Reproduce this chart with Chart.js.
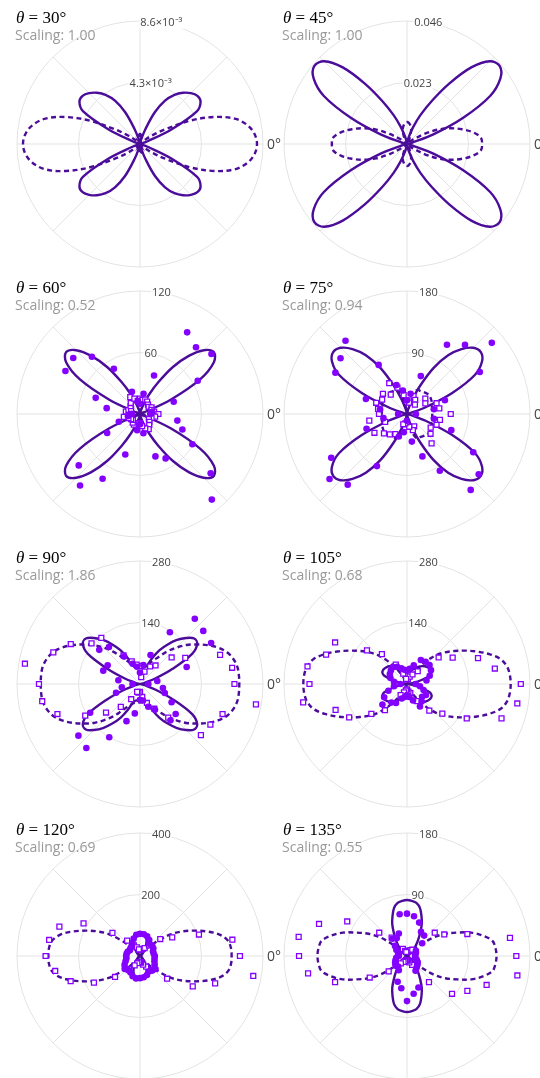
<!DOCTYPE html>
<html>
<head>
<meta charset="utf-8">
<script src="https://cdn.jsdelivr.net/npm/chart.js@4.4.1/dist/chart.umd.min.js"></script>
<style>
  body { margin: 0; width: 540px; height: 1078px; overflow: hidden; background: #fff; position: relative; }
  canvas { position: absolute; }
  .ttl { position: absolute; font: 17px "Liberation Serif", serif; color: #000; line-height: 17px; white-space: nowrap; }
  .sub { position: absolute; font: 14px "Open Sans", sans-serif; color: #999; line-height: 14px; white-space: nowrap; }
</style>
</head>
<body>
<div id="grid"></div>
<script>
//PANEL LABELS

const thetas = ['30°', '45°', '60°', '75°', '90°', '105°', '120°', '135°'];
const scalings = ['1.00', '1.00', '0.52', '0.94', '1.86', '0.68', '0.69', '0.55'];
const radialMax = [0.0086, 0.046, 120, 180, 280, 280, 400, 180];
const tickText = [
	['4.3×10⁻³', '8.6×10⁻³'],
	['0.023', '0.046'],
	['60', '120'],
	['90', '180'],
	['140', '280'],
	['140', '280'],
	['200', '400'],
	['90', '180']
];

//FIT CURVES - one quadrant, 0° to 90° every 5° (the fits are mirror symmetric)

const solid30 = [0, 0, 0, 0.00014, 0.00056, 0.00245, 0.00461, 0.00517, 0.00524, 0.00503, 0.00468, 0.0042, 0.0035, 0.00245, 0.00112, 0.00035, 0.00007, 0, 0];
const dashed30 = [0.00818, 0.00804, 0.00762, 0.00685, 0.00552, 0.00385, 0.0021, 0.00112, 0.00049, 0.00021, 0.00007, 0, 0, 0.00003, 0.0001, 0.0003, 0.0005, 0.00065, 0.0007];
const solid45 = [0, 0, 0.0004, 0.0019, 0.0105, 0.0232, 0.0359, 0.0426, 0.0453, 0.0438, 0.0374, 0.0277, 0.0187, 0.012, 0.0067, 0.003, 0.0011, 0.0004, 0];
const dashed45 = [0.0281, 0.0277, 0.0251, 0.0213, 0.0172, 0.0127, 0.0075, 0.0034, 0.0015, 0.0007, 0.0004, 0.0004, 0.0011, 0.0022, 0.0041, 0.006, 0.0071, 0.0079, 0.0082];
const solid60 = [0, 0, 0, 1, 3, 33, 68, 88, 94, 88, 74, 56, 36, 21, 10, 4, 1, 0, 0];
const dashed60 = [6, 6, 5, 5, 4, 3, 2, 1, 1, 0, 0, 0, 0, 0, 0, 0, 0, 0, 0];
const solid75 = [0, 0, 0, 5, 29, 73, 115, 134, 141, 137, 124, 105, 78, 46, 22, 7, 2, 0, 0];
const dashed75 = [37, 37, 37, 38, 38, 40, 41, 42, 43, 42, 41, 40, 39, 39, 36, 25, 12, 4, 0];
const solid90 = [0, 0, 2, 11, 38, 82, 137, 159, 161, 148, 131, 110, 89, 64, 43, 39, 38, 38, 38];
const dashed90 = [226, 226, 225, 220, 211, 196, 177, 157, 138, 117, 97, 77, 62, 53, 47, 44, 42, 42, 42];
const solid105 = [0, 2, 12, 33, 55, 62, 63, 62, 60, 57, 53, 48, 43, 38, 34, 31, 29, 28, 28];
const dashed105 = [236, 235, 231, 220, 199, 175, 152, 131, 112, 92, 68, 45, 25, 12, 5, 2, 0, 0, 0];
const solid120 = [0, 0, 0, 0, 1, 2, 3, 5, 9, 14, 20, 28, 38, 50, 60, 69, 74, 76, 76];
const dashed120 = [298, 297, 290, 268, 233, 195, 160, 124, 78, 43, 22, 9, 3, 1, 0, 0, 0, 0, 0];
const solid135 = [0, 0, 0, 0, 0, 1, 2, 5, 9, 14, 20, 28, 38, 51, 62, 73, 79, 81, 82];
const dashed135 = [131, 130, 127, 115, 100, 81, 65, 47, 24, 14, 7, 3, 1, 0, 0, 0, 0, 0, 0];

//MEASURED POINTS - 0° to 350° every 10°

const filled60 = [10, 12, 35, 65, 91, 85, 92, 40, 20, 10, 12, 23, 51, 73, 85, 84, 46, 33, 8, 12, 22, 37, 78, 91, 73, 42, 16, 10, 19, 44, 50, 109, 90, 59, 44, 37];
const squares60 = [18, 14, 12, 13, 11, 12, 14, 15, 14, 15, 13, 16, 19, 14, 12, 10, 12, 14, 11, 16, 12, 10, 9, 11, 12, 10, 9, 9, 12, 15, 17, 14, 12, 10, 12, 15];
const filled75 = [13, 40, 59, 123, 162, 132, 117, 59, 30, 20, 35, 45, 83, 140, 127, 121, 64, 40, 13, 35, 63, 128, 148, 135, 88, 35, 27, 10, 41, 66, 96, 145, 137, 112, 69, 40];
const squares75 = [64, 48, 46, 31, 35, 18, 24, 28, 17, 20, 28, 41, 52, 37, 46, 42, 48, 43, 41, 56, 34, 55, 44, 39, 34, 16, 14, 12, 19, 25, 21, 56, 45, 40, 46, 49];
const filled90 = [19, 40, 113, 187, 188, 194, 136, 70, 44, 26, 40, 49, 72, 110, 121, 85, 89, 50, 17, 42, 58, 131, 183, 190, 140, 90, 68, 36, 38, 55, 68, 108, 106, 83, 60, 53];
const squares90 = [215, 213, 194, 119, 94, 55, 46, 30, 16, 41, 45, 55, 75, 137, 144, 182, 210, 266, 230, 226, 200, 144, 101, 68, 40, 19, 20, 18, 30, 46, 65, 100, 181, 185, 200, 268];
const filled105 = [20, 45, 55, 63, 67, 66, 63, 45, 35, 30, 33, 38, 45, 50, 48, 45, 40, 30, 15, 30, 45, 60, 73, 55, 50, 35, 30, 25, 30, 40, 59, 52, 45, 50, 40, 30];
const squares105 = [259, 203, 172, 120, 94, 38, 25, 18, 12, 10, 12, 25, 51, 89, 119, 189, 196, 230, 222, 240, 173, 152, 106, 78, 29, 20, 15, 12, 18, 22, 45, 79, 105, 157, 229, 255];
const filled120 = [48, 45, 45, 50, 52, 50, 60, 68, 72, 72, 70, 60, 50, 42, 40, 38, 42, 44, 45, 45, 50, 58, 65, 60, 62, 70, 74, 72, 70, 66, 58, 62, 66, 55, 50, 48];
const squares120 = [325, 305, 204, 121, 86, 45, 30, 25, 20, 20, 22, 30, 40, 65, 117, 212, 279, 300, 307, 280, 240, 173, 106, 55, 35, 25, 20, 20, 22, 30, 40, 59, 115, 198, 260, 374];
const filled135 = [12, 12, 14, 15, 29, 39, 41, 52, 59, 62, 62, 35, 30, 33, 23, 18, 14, 12, 12, 16, 18, 20, 22, 20, 24, 40, 48, 66, 56, 49, 25, 22, 20, 18, 15, 12];
const squares135 = [160, 153, 94, 63, 53, 12, 10, 8, 6, 6, 6, 8, 12, 35, 53, 101, 137, 161, 158, 147, 112, 63, 35, 14, 10, 8, 6, 6, 7, 10, 15, 50, 86, 102, 124, 164];

const solids = [solid30, solid45, solid60, solid75, solid90, solid105, solid120, solid135];
const dashes = [dashed30, dashed45, dashed60, dashed75, dashed90, dashed105, dashed120, dashed135];
const filled = [null, null, filled60, filled75, filled90, filled105, filled120, filled135];
const squares = [null, null, squares60, squares75, squares90, squares105, squares120, squares135];

//LAYOUT

const fitColor = '#4b0c9a';
const dotColor = '#8400ff';
const gridColor = '#e3e3e3';
const colX = [0, 270];
const rowY = [0, 270, 540, 812];

// radar spokes every 5°, spoke 0 at the top going clockwise -> math angle 90 - 5i
const spokes = [];
for (let i = 0; i < 72; i += 1) {
	spokes.push(((90 - i * 5) % 360 + 360) % 360);
}

function fullCurve(q) {
	return spokes.map((phi) => {
		let a = phi % 180;
		if (a > 90) a = 180 - a;
		return q[a / 5];
	});
}

function pointSeries(vals) {
	return spokes.map((phi) => (phi % 10 === 0 ? vals[phi / 10] : null));
}

// radial tick labels sit along a ray tilted 10° right of the top, plus the 0° label
const polarText = {
	id: 'polarText',
	beforeDatasetsDraw(chart, args, opts) {
		const s = chart.scales.r;
		const ctx = chart.ctx;
		const tilt = 10 * Math.PI / 180;
		ctx.save();
		ctx.font = '11px "Open Sans"';
		ctx.textAlign = 'center';
		ctx.textBaseline = 'middle';
		opts.text.forEach((t, j) => {
			const d = s.getDistanceFromCenterForValue(opts.values[j]);
			const x = s.xCenter + d * Math.sin(tilt);
			const y = s.yCenter - d * Math.cos(tilt);
			const w = ctx.measureText(t).width;
			ctx.fillStyle = 'rgba(255,255,255,0.9)';
			ctx.fillRect(x - w / 2 - 1, y - 6, w + 2, 12);
			ctx.fillStyle = '#444';
			ctx.fillText(t, x, y);
		});
		ctx.font = '14px "Open Sans"';
		ctx.textAlign = 'left';
		ctx.fillStyle = '#444';
		ctx.fillText('0°', s.xCenter + s.drawingArea + 4, s.yCenter + 1);
		ctx.restore();
	}
};

const grid = document.getElementById('grid');

for (let k = 0; k < 8; k += 1) {
	const col = k % 2;
	const row = Math.floor(k / 2);
	const left = colX[col];
	const top = rowY[row];

	const cv = document.createElement('canvas');
	cv.width = 300;
	cv.height = 270;
	cv.style.left = left + 'px';
	cv.style.top = top + 'px';
	grid.appendChild(cv);

	const ttl = document.createElement('div');
	ttl.className = 'ttl';
	ttl.innerHTML = '<i>θ</i> = ' + thetas[k];
	ttl.style.left = (left + (col ? 13 : 16)) + 'px';
	ttl.style.top = (top + 9) + 'px';
	grid.appendChild(ttl);

	const sub = document.createElement('div');
	sub.className = 'sub';
	sub.textContent = 'Scaling: ' + scalings[k];
	sub.style.left = (left + (col ? 12 : 15)) + 'px';
	sub.style.top = (top + 28) + 'px';
	grid.appendChild(sub);

	const datasets = [];
	if (filled[k]) {
		datasets.push({
			data: pointSeries(filled[k]),
			showLine: false, fill: false, borderWidth: 0,
			pointRadius: 3.3, pointBackgroundColor: dotColor, pointBorderWidth: 0
		});
	}
	if (squares[k]) {
		datasets.push({
			data: pointSeries(squares[k]),
			showLine: false, fill: false, borderWidth: 0,
			pointStyle: 'rect', pointRadius: 3.5,
			pointBackgroundColor: '#fff', pointBorderColor: dotColor, pointBorderWidth: 1.3
		});
	}
	datasets.push({
		data: fullCurve(solids[k]),
		borderColor: fitColor, borderWidth: 2.4, fill: false,
		pointRadius: 0, tension: 0.35
	});
	datasets.push({
		data: fullCurve(dashes[k]),
		borderColor: fitColor, borderWidth: 2.4, borderDash: [5, 3.5], fill: false,
		pointRadius: 0, tension: 0.35
	});

	new Chart(cv, {
		type: 'radar',
		data: { labels: spokes, datasets: datasets },
		options: {
			responsive: false,
			animation: false,
			events: [],
			layout: { padding: { left: col ? 14 : 17, right: col ? 40 : 37, top: 21, bottom: 3 } },
			plugins: {
				legend: { display: false },
				tooltip: { enabled: false },
				polarText: { text: tickText[k], values: [radialMax[k] / 2, radialMax[k]] }
			},
			scales: {
				r: {
					min: 0,
					max: radialMax[k],
					startAngle: 0,
					ticks: { display: false, stepSize: radialMax[k] / 2 },
					grid: { circular: true, color: gridColor, lineWidth: 1 },
					angleLines: { color: (c) => (c.index % 9 === 0 ? gridColor : null), lineWidth: 1 },
					pointLabels: { display: false }
				}
			}
		},
		plugins: [polarText]
	});
}
</script>
</body>
</html>
